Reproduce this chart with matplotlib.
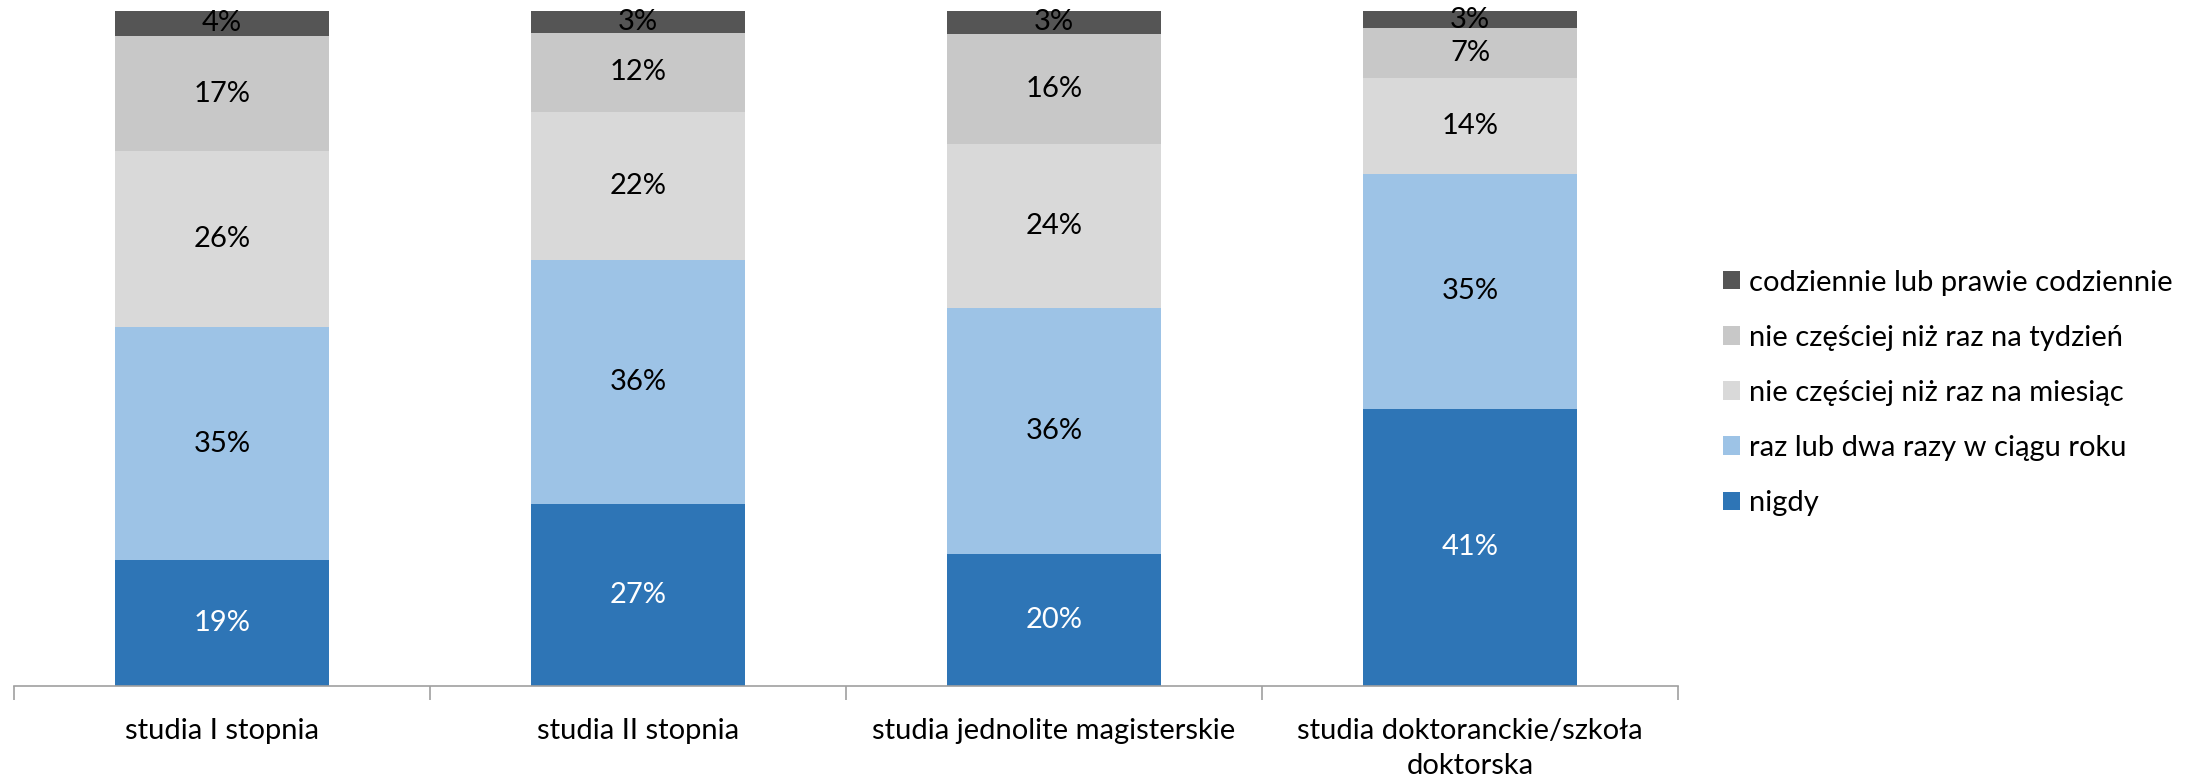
import matplotlib.pyplot as plt
import numpy as np

plt.rcParams['font.family'] = ['Lato', 'DejaVu Sans']

categories = ["studia I stopnia", "studia II stopnia", "studia jednolite magisterskie",
              "studia doktoranckie/szkoła\ndoktorska"]
series = ["nigdy", "raz lub dwa razy w ciągu roku", "nie częściej niż raz na miesiąc",
          "nie częściej niż raz na tydzień", "codziennie lub prawie codziennie"]
nigdy = [18.6, 26.9, 19.6, 41.1]
raz_w_roku = [34.6, 36.2, 36.4, 34.8]
raz_w_miesiacu = [26.0, 22.0, 24.3, 14.2]
raz_w_tygodniu = [17.1, 11.6, 16.3, 7.3]
codziennie = [3.7, 3.3, 3.4, 2.6]

colors = ["#2E75B6", "#9DC3E6", "#D9D9D9", "#C8C8C8", "#555555"]
text_colors = ["white", "black", "black", "black", "black"]
fs = 21

fig = plt.figure(figsize=(21.86, 7.81), dpi=100)
ax = fig.add_axes([0.0064, 0.1216, 0.7612, 0.8644])

x = np.arange(len(categories))
bottom = np.zeros(len(categories))
handles = []
for vals, name, col, tcol in zip([nigdy, raz_w_roku, raz_w_miesiacu, raz_w_tygodniu, codziennie],
                                 series, colors, text_colors):
    vals = np.array(vals)
    bars = ax.bar(x, vals, 0.515, bottom=bottom, color=col, label=name)
    handles.append(bars)
    for xi, b, v in zip(x, bottom, vals):
        ax.text(xi, b + v / 2, f"{round(v)}%", ha="center", va="center",
                fontsize=fs, color=tcol)
    bottom += vals

ax.set_xlim(-0.5, len(categories) - 0.5)
ax.set_ylim(0, 100)
ax.set_yticks([])
for s in ["top", "right", "left"]:
    ax.spines[s].set_visible(False)
ax.spines["bottom"].set_color("#A0A0A0")
ax.spines["bottom"].set_linewidth(1.2)

ax.set_xticks(np.arange(-0.5, len(categories), 1.0))
ax.set_xticklabels([])
ax.tick_params(axis="x", which="major", length=10, color="#A0A0A0", width=1.2)
ax.set_xticks(x, minor=True)
ax.set_xticklabels(categories, minor=True, fontsize=fs, linespacing=1.45)
ax.tick_params(axis="x", which="minor", length=0, pad=23)

fig.legend(handles[::-1], series[::-1], loc="center left", bbox_to_anchor=(0.788, 0.497),
           frameon=False, fontsize=fs, handlelength=0.6, handleheight=0.6,
           handletextpad=0.3, labelspacing=1.0, borderpad=0, borderaxespad=0)

fig.savefig("out.png", dpi=100)
